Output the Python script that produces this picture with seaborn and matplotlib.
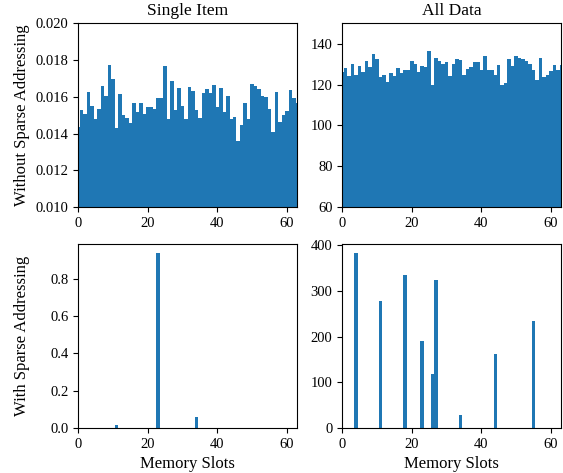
import numpy as np
import pandas as pd
import matplotlib
matplotlib.use("Agg")
import matplotlib.pyplot as plt
import seaborn as sns

N_SLOTS = 64
slots = np.arange(N_SLOTS)

# without sparse addressing
single_dense = [
    0.01436, 0.01527, 0.01505, 0.01627, 0.01549, 0.01482, 0.01531, 0.01658,
    0.01605, 0.01774, 0.01695, 0.01433, 0.01613, 0.01500, 0.01487, 0.01458,
    0.01564, 0.01515, 0.01567, 0.01505, 0.01547, 0.01545, 0.01535, 0.01591,
    0.01591, 0.01769, 0.01478, 0.01685, 0.01527, 0.01649, 0.01549, 0.01478,
    0.01654, 0.01629, 0.01527, 0.01487, 0.01618, 0.01642, 0.01618, 0.01664,
    0.01542, 0.01649, 0.01515, 0.01604, 0.01477, 0.01491, 0.01358, 0.01447,
    0.01564, 0.01482, 0.01669, 0.01658, 0.01642, 0.01605, 0.01600, 0.01533,
    0.01409, 0.01624, 0.01464, 0.01500, 0.01522, 0.01635, 0.01594, 0.01564,
]
all_dense = [
    126.1, 128.2, 124.4, 129.8, 124.8, 129.3, 126.1, 131.5,
    128.7, 134.7, 132.6, 123.5, 124.6, 121.2, 125.6, 124.3,
    127.9, 125.6, 127.2, 126.9, 131.5, 129.8, 126.3, 129.0,
    128.5, 136.4, 120.0, 133.1, 131.5, 130.2, 131.0, 124.0,
    129.8, 132.3, 131.8, 124.6, 127.4, 128.7, 131.0, 131.0,
    126.9, 133.9, 126.9, 126.9, 124.9, 129.5, 120.0, 120.8,
    132.3, 129.3, 134.1, 133.1, 132.6, 131.5, 130.2, 126.9,
    122.3, 132.8, 123.6, 124.6, 126.6, 129.5, 126.9, 129.5,
]

# with sparse addressing (only non-zero slots)
single_sparse_slots = [11, 23, 34]
single_sparse_vals = [0.016, 0.939, 0.061]
all_sparse_slots = [4, 11, 18, 23, 26, 27, 34, 44, 55]
all_sparse_vals = [383, 277, 334, 190, 119, 324, 28, 161, 233]


def to_full(idx, vals):
    out = np.zeros(N_SLOTS)
    out[idx] = vals
    return out


plt.rcParams["font.family"] = ["Liberation Serif", "DejaVu Serif"]
plt.rcParams["xtick.labelsize"] = 10.5
plt.rcParams["ytick.labelsize"] = 10.5

panels = [
    (single_dense, (0.010, 0.020)),
    (all_dense, (60, 150)),
    (to_full(single_sparse_slots, single_sparse_vals), None),
    (to_full(all_sparse_slots, all_sparse_vals), None),
]

fig, axes = plt.subplots(2, 2, figsize=(5.63, 4.73), dpi=100)
fig.subplots_adjust(left=0.139, right=0.997, top=0.951, bottom=0.095,
                    wspace=0.205, hspace=0.2)

for ax, (vals, ylim) in zip(axes.flat, panels):
    df = pd.DataFrame({"slot": slots, "value": vals})
    sns.barplot(data=df, x="slot", y="value", native_scale=True, width=1,
                color="#1f77b4", saturation=1, errorbar=None, linewidth=0, ax=ax)
    ax.set_xlim(0, 63)
    ax.set_xticks([0, 20, 40, 60])
    if ylim is not None:
        ax.set_ylim(*ylim)
    ax.set_xlabel("")
    ax.set_ylabel("")

axes[0, 0].set_yticks(np.arange(0.010, 0.0201, 0.002))
axes[0, 0].set_title("Single Item", fontsize=12.5)
axes[0, 1].set_title("All Data", fontsize=12.5)
axes[0, 0].set_ylabel("Without Sparse Addressing", fontsize=12)
axes[1, 0].set_ylabel("With Sparse Addressing", fontsize=12)
axes[1, 0].set_xlabel("Memory Slots", fontsize=12)
axes[1, 1].set_xlabel("Memory Slots", fontsize=12)
fig.align_ylabels(axes[:, 0])

fig.savefig("out.png", dpi=100)
